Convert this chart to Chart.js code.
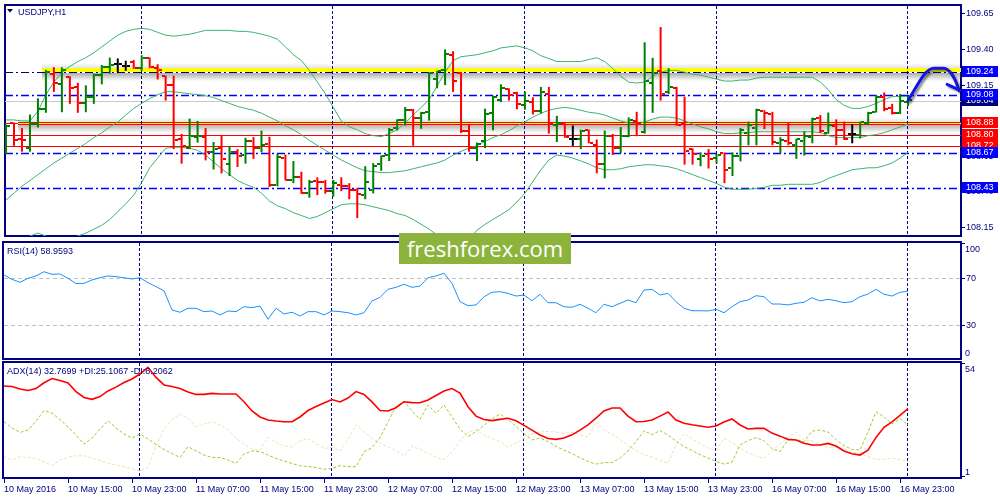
<!DOCTYPE html>
<html><head><meta charset="utf-8">
<script src="https://cdn.jsdelivr.net/npm/chart.js@4.4.0/dist/chart.umd.min.js"></script>
<style>
html,body{margin:0;padding:0;background:#fff;}
#wrap{position:relative;width:1000px;height:500px;overflow:hidden;background:#fff;}
canvas{position:absolute;left:0;}
#wm{position:absolute;left:399px;top:233px;width:172px;height:31px;background:#8cb43c;color:#fff;font-family:"Open Sans",sans-serif;font-size:22px;line-height:31px;text-align:center;z-index:5;white-space:nowrap;}
</style></head><body>
<div id="wrap">
<canvas id="cMain" width="1000" height="241" style="top:0px"></canvas>
<canvas id="cRsi" width="1000" height="121" style="top:240px"></canvas>
<canvas id="cAdx" width="1000" height="140" style="top:360px"></canvas>
<div id="wm">freshforex.com</div>
</div>
<script>
// ---------------- DATA ----------------
const SYMBOL_TITLE = 'USDJPY,H1';
const RSI_TITLE = 'RSI(14) 58.9593';
const ADX_TITLE = 'ADX(14) 32.7699 +DI:25.1067 -DI:8.2062';

const X_LABELS = ['10 May 2016','10 May 15:00','10 May 23:00','11 May 07:00','11 May 15:00','11 May 23:00','12 May 07:00','12 May 15:00','12 May 23:00','13 May 07:00','13 May 15:00','13 May 23:00','16 May 07:00','16 May 15:00','16 May 23:00'];
const X_LABEL_BARS = [0,8,16,24,32,40,48,56,64,72,80,88,96,104,112];
const DAY_STARTS = [17,41,65,89,113];

const OPEN = [108.680,108.882,108.773,108.711,108.875,108.980,109.227,109.155,109.207,109.137,
109.023,109.064,109.223,109.280,109.296,109.287,109.314,109.273,109.341,109.268,
109.212,109.150,108.768,108.711,108.787,108.787,108.682,108.705,108.598,108.677,
108.662,108.757,108.711,108.734,108.445,108.637,108.484,108.507,108.393,108.473,
108.468,108.405,108.450,108.439,108.412,108.375,108.412,108.593,108.662,108.848,
108.905,108.973,108.916,108.962,109.189,109.257,109.364,109.234,108.825,108.711,
108.757,108.955,109.045,109.121,109.091,109.007,109.030,108.966,109.087,108.871,
108.875,108.773,108.768,108.832,108.730,108.598,108.791,108.707,108.791,108.900,
108.818,109.166,109.250,109.098,109.132,108.882,108.700,108.632,108.666,108.639,
108.671,108.564,108.655,108.814,108.848,108.968,108.950,108.746,108.757,108.727,
108.757,108.784,108.916,108.814,108.859,108.832,108.809,108.796,108.882,108.962,
109.068,108.989,108.957,109.030];
const HIGH = [108.871,108.887,108.848,108.943,109.057,109.257,109.275,109.275,109.212,109.166,
109.148,109.230,109.291,109.343,109.337,109.321,109.325,109.359,109.343,109.296,
109.216,109.216,108.807,108.914,108.898,108.848,108.750,108.796,108.723,108.700,
108.780,108.784,108.830,108.787,108.666,108.662,108.616,108.541,108.484,108.502,
108.484,108.484,108.502,108.461,108.427,108.580,108.602,108.655,108.848,108.909,
108.996,108.982,108.962,109.239,109.250,109.400,109.387,109.241,108.877,108.746,
108.984,109.075,109.155,109.127,109.102,109.105,109.064,109.137,109.137,108.934,
108.882,108.866,108.837,108.837,108.768,108.830,108.807,108.855,108.923,108.962,
109.450,109.341,109.557,109.268,109.137,109.068,108.705,108.677,108.700,108.666,
108.677,108.677,108.848,108.893,108.984,108.973,108.962,108.784,108.887,108.773,
108.825,108.921,108.939,108.957,108.909,108.893,108.875,108.893,108.962,109.080,
109.098,109.018,109.087,109.075];
const LOW = [108.666,108.723,108.682,108.682,108.852,108.955,109.102,108.959,109.018,108.955,
108.959,109.018,109.155,109.230,109.234,109.250,109.264,109.250,109.268,109.189,
109.041,108.700,108.598,108.700,108.746,108.621,108.557,108.530,108.511,108.575,
108.598,108.632,108.677,108.434,108.439,108.480,108.461,108.387,108.359,108.377,
108.387,108.366,108.405,108.348,108.216,108.348,108.389,108.548,108.616,108.832,
108.866,108.723,108.843,108.900,109.127,109.150,109.102,108.814,108.682,108.616,
108.707,108.832,109.030,109.041,108.980,108.977,108.943,108.950,108.809,108.750,
108.780,108.723,108.700,108.741,108.530,108.495,108.659,108.673,108.784,108.791,
108.809,108.955,109.041,109.087,108.864,108.591,108.591,108.580,108.564,108.598,
108.461,108.511,108.614,108.727,108.727,108.841,108.727,108.671,108.727,108.632,
108.655,108.741,108.814,108.807,108.727,108.764,108.741,108.775,108.871,108.957,
108.966,108.943,108.946,109.002];
const CLOSE = [108.864,108.764,108.764,108.875,108.980,109.241,109.166,109.257,109.127,109.023,
109.064,109.223,109.280,109.291,109.296,109.287,109.268,109.341,109.275,109.257,
109.150,108.764,108.723,108.791,108.791,108.682,108.700,108.632,108.677,108.650,
108.757,108.705,108.730,108.445,108.643,108.484,108.507,108.393,108.466,108.466,
108.405,108.461,108.439,108.412,108.382,108.468,108.580,108.655,108.837,108.905,
108.973,108.921,108.957,109.234,109.246,109.371,109.177,108.825,108.705,108.734,
108.950,109.064,109.127,109.082,109.018,109.037,108.966,109.098,108.882,108.882,
108.787,108.773,108.825,108.746,108.598,108.791,108.711,108.791,108.905,108.882,
109.177,109.234,109.087,109.137,108.871,108.689,108.666,108.655,108.632,108.659,
108.552,108.655,108.837,108.871,108.973,108.955,108.750,108.764,108.746,108.768,
108.791,108.909,108.825,108.871,108.832,108.768,108.809,108.891,108.955,109.064,
108.984,108.955,109.041,109.042];

const BB_UPPER = [108.905,108.905,108.898,108.898,108.966,109.082,109.171,109.240,109.281,109.315,
109.342,109.377,109.418,109.459,109.500,109.527,109.541,109.548,109.541,109.520,
109.500,109.493,109.500,109.507,109.520,109.534,109.534,109.534,109.534,109.527,
109.527,109.520,109.507,109.493,109.472,109.418,109.363,109.322,109.253,109.171,
109.089,108.993,108.898,108.856,108.836,108.809,108.795,108.788,108.809,108.836,
108.884,108.939,108.993,109.048,109.144,109.240,109.322,109.349,109.356,109.363,
109.377,109.390,109.411,109.418,109.425,109.411,109.390,109.356,109.336,109.315,
109.315,109.315,109.315,109.329,109.342,109.315,109.267,109.212,109.171,109.164,
109.171,109.212,109.240,109.253,109.253,109.240,109.226,109.219,109.205,109.192,
109.178,109.178,109.185,109.185,109.199,109.205,109.205,109.205,109.205,109.205,
109.205,109.205,109.171,109.117,109.048,109.007,108.986,108.986,109.000,109.021,
109.048,109.069,109.069,109.069];
const BB_MIDDLE = [108.343,108.391,108.439,108.480,108.521,108.562,108.603,108.637,108.672,108.706,
108.740,108.781,108.815,108.856,108.891,108.939,108.986,109.021,109.055,109.082,
109.103,109.103,109.096,109.089,109.082,109.075,109.062,109.041,109.021,109.000,
108.986,108.973,108.952,108.925,108.898,108.863,108.836,108.802,108.761,108.726,
108.692,108.658,108.624,108.596,108.569,108.548,108.542,108.535,108.535,108.542,
108.548,108.562,108.576,108.590,108.603,108.624,108.658,108.685,108.706,108.726,
108.754,108.781,108.802,108.829,108.863,108.891,108.925,108.952,108.973,108.986,
108.993,108.986,108.973,108.959,108.952,108.939,108.918,108.898,108.884,108.877,
108.891,108.911,108.925,108.925,108.918,108.898,108.877,108.856,108.843,108.822,
108.809,108.809,108.815,108.815,108.822,108.822,108.822,108.822,108.822,108.822,
108.822,108.822,108.815,108.795,108.781,108.781,108.781,108.781,108.795,108.802,
108.815,108.836,108.856,108.877];
const BB_LOWER = [108.021,108.035,108.056,108.090,108.110,108.090,108.063,108.063,108.076,108.090,
108.110,108.138,108.165,108.206,108.261,108.316,108.377,108.466,108.569,108.637,
108.706,108.713,108.713,108.706,108.692,108.658,108.610,108.562,108.521,108.480,
108.453,108.432,108.391,108.336,108.302,108.282,108.254,108.234,108.213,108.227,
108.254,108.282,108.309,108.316,108.316,108.309,108.295,108.282,108.268,108.247,
108.234,108.206,108.172,108.138,108.097,108.063,108.042,108.042,108.069,108.131,
108.172,108.206,108.240,108.275,108.329,108.391,108.473,108.555,108.624,108.658,
108.651,108.637,108.617,108.596,108.569,108.555,108.555,108.562,108.576,108.583,
108.590,108.590,108.583,108.576,108.562,108.542,108.521,108.500,108.480,108.459,
108.432,108.418,108.418,108.418,108.425,108.432,108.446,108.446,108.453,108.453,
108.453,108.453,108.466,108.494,108.514,108.535,108.555,108.562,108.569,108.569,
108.583,108.603,108.637,108.678];

const RSI = [72.8,69.1,66.6,70.0,72.0,75.6,73.4,73.7,70.0,65.5,
65.7,68.6,70.5,72.0,71.4,70.5,69.4,70.5,66.3,62.9,
59.4,43.0,41.1,44.5,44.5,41.6,42.2,38.8,42.2,41.6,
45.8,45.0,46.4,35.1,44.5,39.6,41.1,37.9,41.6,41.6,
38.8,42.2,41.6,40.7,38.8,40.7,50.7,53.8,60.6,62.3,
64.9,62.3,63.4,70.5,72.0,74.3,65.7,50.1,46.7,47.3,
54.3,58.1,58.6,57.2,54.9,55.8,50.9,56.4,49.2,49.2,
45.8,45.3,47.9,44.5,40.7,47.9,45.8,48.7,51.5,49.2,
60.0,60.6,55.8,57.2,50.1,44.5,42.4,42.4,42.2,43.6,
40.7,45.8,50.1,51.5,55.2,54.3,48.1,48.1,47.3,48.7,
49.6,53.5,50.7,52.1,50.9,49.2,50.1,54.3,56.6,60.6,
56.4,54.9,58.1,58.96];

const ADX = [43.3,43.1,41.9,41.2,42.1,44.8,46.8,45.9,44.7,40.7,
38.0,37.1,38.4,41.0,42.8,44.9,46.6,48.9,52.0,47.3,
43.8,43.1,42.1,40.5,39.4,39.4,39.9,39.6,39.6,39.6,
36.0,31.7,28.9,27.5,27.0,26.7,26.7,28.9,31.9,33.8,
35.4,37.0,35.9,37.7,40.7,39.4,35.9,31.9,31.7,33.2,
36.0,35.6,35.5,36.8,38.9,41.0,42.1,40.0,33.7,29.3,
27.7,27.2,27.8,28.3,27.1,25.0,22.8,20.5,18.9,18.5,
19.1,20.6,22.8,25.2,28.4,31.7,33.1,33.1,29.3,26.7,
26.8,27.5,29.3,31.2,27.5,26.0,25.3,24.7,24.1,24.7,
26.6,28.0,25.2,23.3,23.6,23.6,21.4,20.0,18.5,18.2,
16.7,15.9,15.9,16.6,15.4,13.1,11.8,11.2,13.5,19.4,
24.1,26.6,29.6,32.77];
const PLUS_DI = [26.7,23.8,21.7,22.8,27.0,31.9,30.7,27.7,24.2,20.5,
16.3,19.1,23.3,27.2,23.8,21.0,19.1,21.0,18.7,16.1,
13.8,11.9,10.1,15.1,13.2,11.2,10.1,10.1,8.9,7.3,
11.7,13.1,12.8,11.2,9.6,8.4,7.3,6.2,5.9,5.4,
4.6,4.9,6.3,5.8,5.8,12.7,14.7,19.3,26.6,34.0,
36.0,31.7,27.8,34.5,30.6,34.5,28.9,23.3,19.8,22.1,
25.0,28.0,30.3,27.7,24.5,21.2,18.2,19.1,17.5,15.2,
13.5,11.9,10.0,8.2,7.0,7.7,7.7,9.8,13.1,17.5,
22.5,20.7,22.6,20.5,17.7,15.2,13.3,11.4,9.8,8.2,
7.0,7.9,15.9,17.9,19.3,17.9,14.2,12.8,18.2,18.5,
17.4,22.3,22.8,21.9,18.4,15.6,13.8,13.5,21.9,31.3,
29.0,25.6,28.2,25.11];
const MINUS_DI = [10.4,8.9,10.4,10.2,9.6,8.0,6.3,8.9,10.2,10.9,
10.9,9.8,8.7,7.3,6.6,5.8,4.8,3.8,5.6,15.4,
23.3,27.7,30.3,28.3,24.2,25.6,26.7,25.3,22.8,19.1,
16.3,14.0,13.5,19.4,17.3,15.4,14.9,17.9,18.7,16.5,
14.3,14.7,13.1,18.5,25.2,22.0,18.9,16.8,15.1,13.3,
10.7,15.4,13.8,11.9,10.2,9.1,12.6,17.7,21.9,23.0,
20.5,18.9,17.5,14.7,16.8,18.9,21.0,21.9,22.2,21.9,
21.4,21.7,20.7,19.6,26.6,22.8,21.0,18.4,15.6,13.3,
11.4,10.2,8.7,7.3,15.9,21.3,18.7,16.3,14.5,13.2,
19.0,17.0,14.5,12.3,10.7,9.7,13.1,16.3,19.6,22.0,
18.2,17.9,16.1,14.5,14.9,13.8,12.6,11.9,10.5,9.1,
9.3,9.8,9.1,8.21];

const PRICE_TICKS = [108.15,108.40,108.65,108.90,109.15,109.40,109.65];
const RSI_TICKS = [30,70,100];
const RSI_LEVELS = [30,70];
const RSI_EDGE_LABELS = ['100','0'];
const ADX_TICKS = [1,54];
const ADX_EDGE_LABELS = ['54','1'];

const BID_PRICE = 109.04;
const LEVEL_YELLOW = 109.24;      // yellow band line
const LEVEL_RED_GLOW = 108.88;    // red/yellow band line
const LEVELS_RED = [108.80,108.72];
const LEVELS_BLUE = [109.08,108.67,108.43];

// ---------------- STYLE ----------------
const NAVY = '#000080';
const FONT = "9px 'Liberation Sans', Arial, sans-serif";
const X_MIN = -0.125, X_MAX = 119.625;
Chart.defaults.font.family = "'Liberation Sans', Arial, sans-serif";
Chart.defaults.font.size = 9;
Chart.defaults.color = NAVY;

function crisp(v){ return Math.round(v) + 0.5; }
function hline(ctx,x1,x2,y,color,w,dash){ctx.save();ctx.strokeStyle=color;ctx.lineWidth=w;ctx.setLineDash(dash||[]);ctx.beginPath();ctx.moveTo(x1,y);ctx.lineTo(x2,y);ctx.stroke();ctx.restore();}
function shade(ctx,x1,x2,y1,y2,a1,a2){const g=ctx.createLinearGradient(0,y1,0,y2);g.addColorStop(0,'rgba(70,70,70,'+a1+')');g.addColorStop(1,'rgba(70,70,70,'+a2+')');ctx.fillStyle=g;ctx.fillRect(x1,y1,x2-x1,y2-y1);}
const DASHDOT = [8,3,2,3];
function noPad(s){ s.paddingTop=0; s.paddingBottom=0; s.paddingLeft=0; s.paddingRight=0; }

const framePlugin = {id:'frame', beforeDatasetsDraw(c){
  const a=c.chartArea, ctx=c.ctx; ctx.save(); ctx.strokeStyle=NAVY; ctx.lineWidth=2; ctx.setLineDash([]);
  ctx.strokeRect(a.left, a.top, a.right-a.left, a.bottom-a.top); ctx.restore();
  ctx.imageSmoothingEnabled = false;
}};
const sepPlugin = {id:'sep', beforeDatasetsDraw(c){
  const a=c.chartArea, ctx=c.ctx, xs=c.scales.x;
  ctx.save(); ctx.strokeStyle=NAVY; ctx.lineWidth=1; ctx.setLineDash([3,2]);
  DAY_STARTS.forEach(k=>{const x=Math.round(xs.getPixelForValue(k))-0.5; ctx.beginPath(); ctx.moveTo(x,a.top+1); ctx.lineTo(x,a.bottom-1); ctx.stroke();});
  ctx.restore();
}};

const mainLevels = {id:'mainLevels', beforeDatasetsDraw(c){
  const a=c.chartArea, ctx=c.ctx, ys=c.scales.y, L=a.left, R=a.right;
  ctx.save();
  hline(ctx,L,R,crisp(ys.getPixelForValue(BID_PRICE)),'#c8c8c8',1);
  const yb=Math.round(ys.getPixelForValue(LEVEL_YELLOW));
  shade(ctx,L+37,R,yb-9,yb-4,0,0.15);
  shade(ctx,L+37,R,yb+1,yb+9,0.45,0);
  ctx.fillStyle='#ffff00'; ctx.fillRect(L+37,yb-4,R-L-37,4);
  hline(ctx,L,R,yb+0.5,NAVY,1.2,DASHDOT);
  const yr=Math.round(ys.getPixelForValue(LEVEL_RED_GLOW));
  shade(ctx,L+13,R,yr-6,yr-1,0,0.15);
  shade(ctx,L+13,R,yr+2,yr+10,0.4,0);
  hline(ctx,L,R,yr+0.5,'#ff0000',1);
  ctx.fillStyle='#ff0000'; ctx.fillRect(L+13,yr-1,R-L-13,3);
  ctx.fillStyle='#ffff00'; ctx.fillRect(L+13,yr,R-L-13,1);
  LEVELS_RED.forEach(v=>hline(ctx,L,R,crisp(ys.getPixelForValue(v)),'#ff0000',1.2));
  LEVELS_BLUE.forEach(v=>hline(ctx,L,R,crisp(ys.getPixelForValue(v)),'#0000ff',1.4,DASHDOT));
  ctx.restore();
}, afterDraw(c){
  const a=c.chartArea, ctx=c.ctx, ys=c.scales.y, xs=c.scales.x;
  ctx.save();
  ctx.fillStyle='#000033'; ctx.beginPath(); ctx.moveTo(7,9); ctx.lineTo(13,9); ctx.lineTo(10,12.5); ctx.closePath(); ctx.fill();
  ctx.font=FONT; ctx.fillStyle=NAVY; ctx.textBaseline='middle'; ctx.textAlign='left';
  ctx.fillText(SYMBOL_TITLE, 18, a.top+8);
  const n=CLOSE.length-1;
  const x0=xs.getPixelForValue(n), y0=ys.getPixelForValue(CLOSE[n]);
  const yt=ys.getPixelForValue(LEVEL_YELLOW)-4;
  ctx.shadowColor='rgba(0,0,0,0.45)'; ctx.shadowOffsetX=2; ctx.shadowOffsetY=2; ctx.shadowBlur=2;
  ctx.strokeStyle='#1414e6'; ctx.lineWidth=3; ctx.lineCap='round'; ctx.lineJoin='round';
  ctx.beginPath(); ctx.moveTo(x0,y0);
  ctx.bezierCurveTo(x0+10,y0-16,x0+17,yt,x0+26,yt);
  ctx.lineTo(x0+35,yt);
  ctx.bezierCurveTo(x0+42,yt,x0+47,yt+10,x0+51,y0-10);
  ctx.stroke();
  ctx.beginPath(); ctx.moveTo(x0+39,y0-16); ctx.lineTo(x0+52,y0-10); ctx.stroke();
  ctx.restore();
  ctx.save(); ctx.font=FONT; ctx.textBaseline='middle'; ctx.textAlign='left';
  const boxes=[[BID_PRICE,NAVY],[LEVEL_YELLOW,'#0000ff']].concat(LEVELS_BLUE.slice(0,1).map(v=>[v,'#0000ff']))
    .concat([[LEVEL_RED_GLOW,'#ff0000']]).concat(LEVELS_RED.map(v=>[v,'#ff0000'])).concat(LEVELS_BLUE.slice(1).map(v=>[v,'#0000ff']));
  boxes.forEach(([v,col])=>{const y=Math.round(ys.getPixelForValue(v)); ctx.fillStyle=col; ctx.fillRect(962,y-6,36,11); ctx.fillStyle='#ffffff'; ctx.fillText(v.toFixed(2),966,y-0.5);});
  ctx.restore();
}};

const rsiDeco = {id:'rsiDeco', beforeDatasetsDraw(c){
  const a=c.chartArea, ctx=c.ctx, ys=c.scales.y;
  RSI_LEVELS.forEach(v=>hline(ctx,a.left+1,a.right-1,crisp(ys.getPixelForValue(v)),'#c0c0c0',1,[4,3]));
}, afterDraw(c){
  const a=c.chartArea, ctx=c.ctx; ctx.save(); ctx.font=FONT; ctx.fillStyle=NAVY; ctx.textBaseline='middle'; ctx.textAlign='left';
  ctx.fillText(RSI_TITLE,7,a.top+9.5);
  ctx.fillText(RSI_EDGE_LABELS[0],965,a.top+7.3);
  ctx.fillText(RSI_EDGE_LABELS[1],965,a.bottom-5.7);
  ctx.restore();
}};
const adxDeco = {id:'adxDeco', afterDraw(c){
  const a=c.chartArea, ctx=c.ctx; ctx.save(); ctx.font=FONT; ctx.fillStyle=NAVY; ctx.textBaseline='middle'; ctx.textAlign='left';
  ctx.fillText(ADX_TITLE,7,a.top+9.5);
  ctx.fillText(ADX_EDGE_LABELS[0],965,a.top+7.3);
  ctx.fillText(ADX_EDGE_LABELS[1],965,a.bottom-5.3);
  ctx.restore();
}};

function tickImg(color, left){const c=document.createElement('canvas');c.width=8;c.height=2;const g=c.getContext('2d');g.fillStyle=color;if(left)g.fillRect(0,0,3,2);else g.fillRect(5,0,3,2);return c;}
const barColor = OPEN.map((o,i)=> CLOSE[i]>o ? '#008000' : (CLOSE[i]<o ? '#ff0000' : '#000000'));
const imgs = {}; ['#008000','#ff0000','#000000'].forEach(col=>{imgs[col]={L:tickImg(col,true),R:tickImg(col,false)};});
const openStyles = barColor.map(c=>imgs[c].L);
const closeStyles = barColor.map(c=>imgs[c].R);

const baseOpts = {responsive:false, maintainAspectRatio:false, animation:false, devicePixelRatio:1, events:[],
  plugins:{legend:{display:false}, tooltip:{enabled:false}}};
function xScale(display){return {type:'linear', min:X_MIN, max:X_MAX, offset:false, display:display, grid:{offset:false}, afterFit(s){noPad(s);}};}
function yScale(min,max,ticks,cb){return {position:'right', min:min, max:max, afterFit(s){s.width=39; noPad(s);},
  afterBuildTicks(s){s.ticks=ticks.map(v=>({value:v}));},
  ticks:{color:NAVY, padding:1, autoSkip:false, callback:cb, font:{size:9}},
  grid:{drawOnChartArea:false, drawTicks:true, tickLength:4, color:NAVY}, border:{display:false}};}
const pts = arr => arr.map((v,i)=>({x:i,y:v}));

new Chart(document.getElementById('cMain'), {
  type:'bar',
  data:{datasets:[
    {type:'line', data:pts(BB_UPPER), borderColor:'#3cb371', borderWidth:1, pointRadius:0, order:4},
    {type:'line', data:pts(BB_MIDDLE), borderColor:'#3cb371', borderWidth:1, pointRadius:0, order:4},
    {type:'line', data:pts(BB_LOWER), borderColor:'#3cb371', borderWidth:1, pointRadius:0, order:4},
    {type:'bar', data:HIGH.map((h,i)=>({x:i,y:[LOW[i],h]})), backgroundColor:barColor, borderWidth:0, barThickness:2, inflateAmount:0, order:3},
    {type:'scatter', data:pts(OPEN), pointStyle:openStyles, pointRadius:2, order:2},
    {type:'scatter', data:pts(CLOSE), pointStyle:closeStyles, pointRadius:2, order:2}
  ]},
  options:Object.assign({}, baseOpts, {layout:{padding:{left:3,top:3,right:0,bottom:1}},
    scales:{x:xScale(false), y:yScale(108.09,109.712,PRICE_TICKS,v=>v.toFixed(2))}}),
  plugins:[framePlugin, mainLevels, sepPlugin]
});

new Chart(document.getElementById('cRsi'), {
  type:'line',
  data:{datasets:[{data:pts(RSI), borderColor:'#1e90ff', borderWidth:1, pointRadius:0}]},
  options:Object.assign({}, baseOpts, {layout:{padding:{left:3,top:2,right:0,bottom:2}},
    scales:{x:xScale(false), y:yScale(1.3,100.9,RSI_TICKS,v=>(RSI_LEVELS.indexOf(v)>=0?String(v):''))}}),
  plugins:[framePlugin, rsiDeco, sepPlugin]
});

const xAdx = xScale(true);
xAdx.afterFit = s=>{s.height=22; noPad(s);};
xAdx.afterBuildTicks = s=>{s.ticks=X_LABEL_BARS.map(v=>({value:v}));};
xAdx.ticks = {color:NAVY, autoSkip:false, maxRotation:0, minRotation:0, align:'start', padding:1, callback:(v,i)=>X_LABELS[i], font:{size:9}};
xAdx.grid = {offset:false, drawOnChartArea:false, drawTicks:true, tickLength:5, color:NAVY};
xAdx.border = {display:false};

new Chart(document.getElementById('cAdx'), {
  type:'line',
  data:{datasets:[
    {data:pts(MINUS_DI), borderColor:'#f5deb3', borderWidth:1, borderDash:[3,2], pointRadius:0, order:3},
    {data:pts(PLUS_DI), borderColor:'#9acd32', borderWidth:1, borderDash:[3,2], pointRadius:0, order:2},
    {data:pts(ADX), borderColor:'#ff0000', borderWidth:1.6, pointRadius:0, order:1}
  ]},
  options:Object.assign({}, baseOpts, {layout:{padding:{left:3,top:2,right:0,bottom:0}},
    scales:{x:xAdx, y:yScale(0.53,54.47,ADX_TICKS,()=> '')}}),
  plugins:[framePlugin, adxDeco, sepPlugin]
});
</script>
</body></html>
